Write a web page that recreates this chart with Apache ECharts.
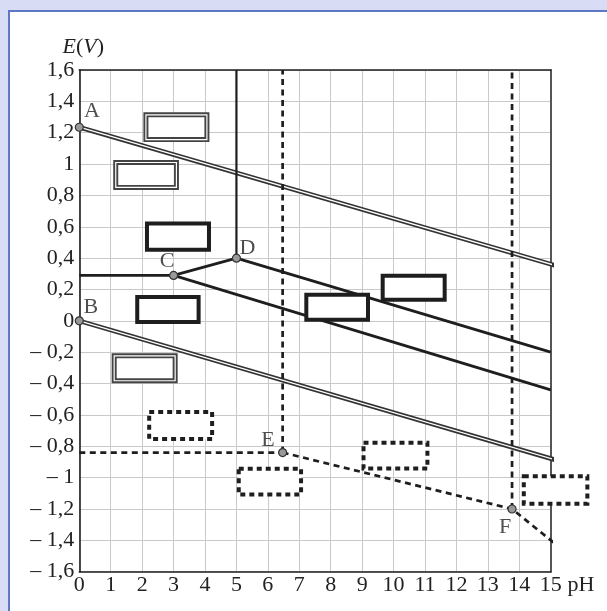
<!DOCTYPE html>
<html>
<head>
<meta charset="utf-8">
<script src="https://cdn.jsdelivr.net/npm/echarts@6/dist/echarts.min.js"></script>
<style>
  html, body { margin: 0; padding: 0; width: 607px; height: 611px; overflow: hidden; background: #d8dcf4; }
  #panel { position: absolute; left: 8px; top: 10px; width: 640px; height: 640px; background: #ffffff; border-left: 2px solid #5d77c4; border-top: 2px solid #5d77c4; }
  #chart { position: absolute; left: 0; top: 0; width: 607px; height: 611px; }
</style>
</head>
<body>
<div id="panel"></div>
<div id="chart"></div>
<script>
// ---- data ----
const xTickLabels = ['0','1','2','3','4','5','6','7','8','9','10','11','12','13','14','15'];
const yTickLabels = ['– 1,6','– 1,4','– 1,2','– 1','– 0,8','– 0,6','– 0,4','– 0,2','0','0,2','0,4','0,6','0,8','1','1,2','1,4','1,6'];

const lineA = [[0, 1.235], [15.2, 0.35]];
const lineB = [[0, 0], [15.2, -0.89]];
const lineToC = [[0, 0.29], [3, 0.29]];
const lineCD = [[3, 0.29], [5, 0.40]];
const lineDUp = [[5, 0.40], [5, 1.6]];
const lineDDown = [[5, 0.40], [15, -0.20]];
const lineCDown = [[3, 0.29], [15, -0.44]];

const dashToE = [[0, -0.84], [6.47, -0.84]];
const dashEUp = [[6.47, -0.84], [6.47, 1.6]];
const dashFUp = [[13.77, -1.2], [13.77, 1.6]];
const dashEF = [[6.47, -0.84], [13.77, -1.2], [15.13, -1.42]];

const points = [[0, 1.235], [0, 0], [3, 0.29], [5, 0.40], [6.47, -0.84], [13.77, -1.2]];
const pointLabels = [[0.4, 1.34, 'A'], [0.37, 0.09, 'B'], [2.79, 0.38, 'C'], [5.35, 0.465, 'D'], [6.0, -0.76, 'E'], [13.55, -1.315, 'F']];

// boxes: [pH1, E1, pH2, E2]
const doubleBoxes = [[2.04, 1.33, 4.14, 1.14], [1.08, 1.026, 3.17, 0.835], [1.03, -0.207, 3.13, -0.398]];
const solidBoxes = [[2.09, 0.633, 4.19, 0.441], [1.78, 0.165, 3.86, -0.02], [7.16, 0.18, 9.25, -0.005], [9.59, 0.30, 11.69, 0.122]];
const dottedBoxes = [[2.16, -0.568, 4.29, -0.766], [5.01, -0.93, 7.12, -1.121], [8.98, -0.764, 11.14, -0.955], [14.08, -0.978, 16.23, -1.179]];

// ---- chart ----
const FONT = '"Liberation Serif", "DejaVu Serif", serif';
const FS = 22;
const chart = echarts.init(document.getElementById('chart'), null, { renderer: 'canvas' });

function lineSeries(data, style, z) {
  return { type: 'line', data: data, showSymbol: false, symbol: 'none', clip: false, animation: false, silent: true, z: z || 3, lineStyle: style };
}
function boxRender(kind) {
  return function (params, api) {
    const p1 = api.coord([api.value(0), api.value(1)]);
    const p2 = api.coord([api.value(2), api.value(3)]);
    const sw = kind === 'double' ? 5 : (kind === 'solid' ? 4 : 4);
    const x = Math.min(p1[0], p2[0]) + sw / 2, y = Math.min(p1[1], p2[1]) + sw / 2;
    const w = Math.abs(p2[0] - p1[0]) - sw, h = Math.abs(p2[1] - p1[1]) - sw;
    if (kind === 'double') {
      return { type: 'group', children: [
        { type: 'rect', shape: { x: x, y: y, width: w, height: h }, style: { fill: '#fff', stroke: '#444', lineWidth: sw } },
        { type: 'rect', shape: { x: x, y: y, width: w, height: h }, style: { fill: 'none', stroke: '#fff', lineWidth: 1.2 } }
      ] };
    }
    if (kind === 'solid') {
      return { type: 'rect', shape: { x: x, y: y, width: w, height: h }, style: { fill: '#fff', stroke: '#1e1e1e', lineWidth: sw } };
    }
    return { type: 'rect', shape: { x: x, y: y, width: w, height: h }, style: { fill: '#fff', stroke: '#1e1e1e', lineWidth: sw, lineDash: [5, 4] } };
  };
}
function boxSeries(data, kind) {
  return { type: 'custom', data: data, clip: false, animation: false, silent: true, z: 5,
    encode: { x: [0, 2], y: [1, 3] }, renderItem: boxRender(kind) };
}

const solid = { color: '#1e1e1e', width: 2.8 };
const dashed = { color: '#1e1e1e', width: 2.7, type: [6, 4.5] };
const dblOuter = { color: '#333', width: 4.6 };
const dblInner = { color: '#fff', width: 1.3 };

const option = {
  backgroundColor: 'transparent',
  animation: false,
  grid: { left: 79.3, right: 56.3, top: 70, bottom: 39.3 },
  xAxis: [{
    type: 'value', min: 0, max: 15, interval: 1,
    axisLine: { show: true, onZero: false, lineStyle: { color: '#1e1e1e', width: 1.6 } },
    axisTick: { show: false },
    splitLine: { show: true, lineStyle: { color: '#c9c9c9', width: 1 } },
    axisLabel: { fontFamily: FONT, fontSize: FS, color: '#222', margin: 3,
      formatter: v => xTickLabels[Math.round(v)] },
    name: 'pH', nameLocation: 'end', nameGap: 13,
    nameTextStyle: { fontFamily: FONT, fontSize: FS, color: '#222', verticalAlign: 'top', padding: [3, 0, 0, 0] }
  }, {
    type: 'value', min: 0, max: 15, position: 'top',
    axisLine: { show: true, onZero: false, lineStyle: { color: '#1e1e1e', width: 1.6 } },
    axisTick: { show: false }, axisLabel: { show: false }, splitLine: { show: false }
  }],
  yAxis: [{
    type: 'value', min: -1.6, max: 1.6, interval: 0.2,
    axisLine: { show: true, onZero: false, lineStyle: { color: '#1e1e1e', width: 1.6 } },
    axisTick: { show: false },
    splitLine: { show: true, lineStyle: { color: '#c9c9c9', width: 1 } },
    axisLabel: { fontFamily: FONT, fontSize: FS, color: '#222', margin: 5,
      formatter: v => yTickLabels[Math.round((v + 1.6) / 0.2)] },
    name: '{i|E}({i|V})', nameLocation: 'end', nameGap: 12,
    nameTextStyle: { fontFamily: FONT, fontSize: FS, color: '#222', padding: [0, 0, 0, 8],
      rich: { i: { fontFamily: FONT, fontSize: FS, fontStyle: 'italic', color: '#222' } } }
  }, {
    type: 'value', min: -1.6, max: 1.6, position: 'right',
    axisLine: { show: true, onZero: false, lineStyle: { color: '#555', width: 2 } },
    axisTick: { show: false }, axisLabel: { show: false }, splitLine: { show: false }
  }],
  series: [
    lineSeries(lineA, dblOuter, 3), lineSeries(lineA, dblInner, 3),
    lineSeries(lineB, dblOuter, 3), lineSeries(lineB, dblInner, 3),
    lineSeries(lineToC, solid), lineSeries(lineCD, solid), lineSeries(lineDUp, { color: '#1e1e1e', width: 2.2 }),
    lineSeries(lineDDown, solid), lineSeries(lineCDown, solid),
    lineSeries(dashToE, dashed), lineSeries(dashEUp, dashed), lineSeries(dashFUp, dashed), lineSeries(dashEF, dashed),
    boxSeries(doubleBoxes, 'double'),
    boxSeries(solidBoxes, 'solid'),
    boxSeries(dottedBoxes, 'dotted'),
    { type: 'scatter', data: points, symbol: 'circle', symbolSize: 8, clip: false, silent: true, z: 8,
      itemStyle: { color: '#999', borderColor: '#333', borderWidth: 1.2, opacity: 1 } },
    { type: 'scatter', data: pointLabels, symbolSize: 0, clip: false, silent: true, z: 9,
      label: { show: true, position: 'inside', formatter: p => p.data[2],
        fontFamily: FONT, fontSize: FS, color: '#222' } }
  ]
};
chart.setOption(option);
</script>
</body>
</html>
